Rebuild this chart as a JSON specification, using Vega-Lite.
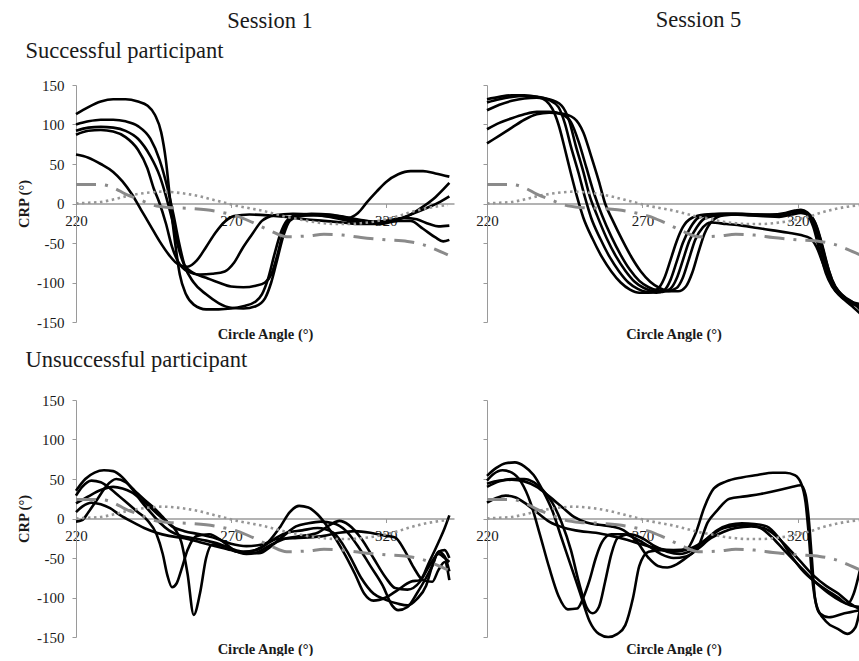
{
  "$schema": "https://vega.github.io/schema/vega-lite/v6.json",
  "padding": {"left": 16, "top": 9, "right": 0, "bottom": 0},
  "background": "white",
  "columns": 2,
  "spacing": {"row": 78, "column": 33},
  "bounds": "flush",
  "config": {
    "view": {"stroke": null},
    "font": "Liberation Serif",
    "axis": {"grid": false, "labelFont": "Liberation Serif", "labelFontSize": 15, "labelColor": "#1a1a1a", "titleFont": "Liberation Serif", "titleFontSize": 14.5, "titleFontWeight": "bold", "titleColor": "#1a1a1a", "domainColor": "#9a9a9a", "tickColor": "#9a9a9a"},
    "title": {"font": "Liberation Serif", "fontSize": 22.5, "fontWeight": "normal", "color": "#1a1a1a"}
  },
  "datasets": {
    "ref": [
      {"kind":"dotted","angle":220,"crp":0},{"kind":"dotted","angle":224,"crp":1},{"kind":"dotted","angle":228,"crp":2},{"kind":"dotted","angle":232,"crp":5},{"kind":"dotted","angle":236,"crp":9},{"kind":"dotted","angle":240,"crp":12},{"kind":"dotted","angle":244,"crp":14},{"kind":"dotted","angle":248,"crp":15},{"kind":"dotted","angle":252,"crp":14},{"kind":"dotted","angle":256,"crp":12},{"kind":"dotted","angle":260,"crp":9},{"kind":"dotted","angle":264,"crp":5},{"kind":"dotted","angle":268,"crp":1},{"kind":"dotted","angle":272,"crp":-3},{"kind":"dotted","angle":276,"crp":-6},{"kind":"dotted","angle":280,"crp":-9},{"kind":"dotted","angle":284,"crp":-13},{"kind":"dotted","angle":288,"crp":-17},{"kind":"dotted","angle":292,"crp":-20},{"kind":"dotted","angle":296,"crp":-23},{"kind":"dotted","angle":300,"crp":-25},{"kind":"dotted","angle":304,"crp":-26},{"kind":"dotted","angle":308,"crp":-26},{"kind":"dotted","angle":312,"crp":-25},{"kind":"dotted","angle":316,"crp":-23},{"kind":"dotted","angle":320,"crp":-20},{"kind":"dotted","angle":324,"crp":-16},{"kind":"dotted","angle":328,"crp":-11},{"kind":"dotted","angle":332,"crp":-7},{"kind":"dotted","angle":336,"crp":-4},{"kind":"dotted","angle":340,"crp":-2},
      {"kind":"dashdot","angle":220,"crp":24},{"kind":"dashdot","angle":228,"crp":24},{"kind":"dashdot","angle":232,"crp":20},{"kind":"dashdot","angle":236,"crp":12},{"kind":"dashdot","angle":241,"crp":4},{"kind":"dashdot","angle":245,"crp":-2},{"kind":"dashdot","angle":250,"crp":-5},{"kind":"dashdot","angle":256,"crp":-6},{"kind":"dashdot","angle":262,"crp":-8},{"kind":"dashdot","angle":268,"crp":-12},{"kind":"dashdot","angle":272,"crp":-16},{"kind":"dashdot","angle":277,"crp":-24},{"kind":"dashdot","angle":283,"crp":-35},{"kind":"dashdot","angle":288,"crp":-42},{"kind":"dashdot","angle":295,"crp":-41},{"kind":"dashdot","angle":300,"crp":-39},{"kind":"dashdot","angle":306,"crp":-40},{"kind":"dashdot","angle":312,"crp":-43},{"kind":"dashdot","angle":320,"crp":-46},{"kind":"dashdot","angle":327,"crp":-48},{"kind":"dashdot","angle":332,"crp":-52},{"kind":"dashdot","angle":336,"crp":-58},{"kind":"dashdot","angle":340,"crp":-65}
    ],
    "curves": [
      {"panel":"TL","trial":1,"angle":220,"crp":113},{"panel":"TL","trial":1,"angle":224,"crp":122},{"panel":"TL","trial":1,"angle":228,"crp":129},{"panel":"TL","trial":1,"angle":232,"crp":132},{"panel":"TL","trial":1,"angle":236,"crp":132},{"panel":"TL","trial":1,"angle":240,"crp":129},{"panel":"TL","trial":1,"angle":243,"crp":124},{"panel":"TL","trial":1,"angle":245.5,"crp":112},{"panel":"TL","trial":1,"angle":247.5,"crp":90},{"panel":"TL","trial":1,"angle":249,"crp":55},{"panel":"TL","trial":1,"angle":250.5,"crp":0},{"panel":"TL","trial":1,"angle":252,"crp":-50},{"panel":"TL","trial":1,"angle":253.5,"crp":-90},{"panel":"TL","trial":1,"angle":255.5,"crp":-115},{"panel":"TL","trial":1,"angle":258,"crp":-128},{"panel":"TL","trial":1,"angle":262,"crp":-134},{"panel":"TL","trial":1,"angle":266,"crp":-134},{"panel":"TL","trial":1,"angle":270,"crp":-133},{"panel":"TL","trial":1,"angle":274,"crp":-130},{"panel":"TL","trial":1,"angle":278,"crp":-124},{"panel":"TL","trial":1,"angle":280,"crp":-115},{"panel":"TL","trial":1,"angle":282,"crp":-95},{"panel":"TL","trial":1,"angle":284,"crp":-65},{"panel":"TL","trial":1,"angle":286,"crp":-38},{"panel":"TL","trial":1,"angle":288,"crp":-22},{"panel":"TL","trial":1,"angle":291,"crp":-15},{"panel":"TL","trial":1,"angle":296,"crp":-13},{"panel":"TL","trial":1,"angle":302,"crp":-14},{"panel":"TL","trial":1,"angle":308,"crp":-18},{"panel":"TL","trial":1,"angle":311,"crp":-12},{"panel":"TL","trial":1,"angle":314,"crp":2},{"panel":"TL","trial":1,"angle":317,"crp":15},{"panel":"TL","trial":1,"angle":320,"crp":27},{"panel":"TL","trial":1,"angle":324,"crp":37},{"panel":"TL","trial":1,"angle":328,"crp":41},{"panel":"TL","trial":1,"angle":332,"crp":41},{"panel":"TL","trial":1,"angle":336,"crp":38},{"panel":"TL","trial":1,"angle":340.5,"crp":34},
      {"panel":"TL","trial":2,"angle":220,"crp":100},{"panel":"TL","trial":2,"angle":224,"crp":104},{"panel":"TL","trial":2,"angle":228,"crp":106},{"panel":"TL","trial":2,"angle":232,"crp":106},{"panel":"TL","trial":2,"angle":236,"crp":104},{"panel":"TL","trial":2,"angle":240,"crp":98},{"panel":"TL","trial":2,"angle":244,"crp":82},{"panel":"TL","trial":2,"angle":247,"crp":55},{"panel":"TL","trial":2,"angle":249.5,"crp":20},{"panel":"TL","trial":2,"angle":251.5,"crp":-15},{"panel":"TL","trial":2,"angle":253,"crp":-45},{"panel":"TL","trial":2,"angle":255,"crp":-78},{"panel":"TL","trial":2,"angle":258,"crp":-100},{"panel":"TL","trial":2,"angle":262,"crp":-115},{"panel":"TL","trial":2,"angle":266,"crp":-126},{"panel":"TL","trial":2,"angle":270,"crp":-132},{"panel":"TL","trial":2,"angle":274,"crp":-133},{"panel":"TL","trial":2,"angle":278,"crp":-130},{"panel":"TL","trial":2,"angle":281,"crp":-120},{"panel":"TL","trial":2,"angle":283,"crp":-100},{"panel":"TL","trial":2,"angle":285,"crp":-70},{"panel":"TL","trial":2,"angle":287,"crp":-40},{"panel":"TL","trial":2,"angle":289,"crp":-22},{"panel":"TL","trial":2,"angle":292,"crp":-16},{"panel":"TL","trial":2,"angle":298,"crp":-14},{"panel":"TL","trial":2,"angle":305,"crp":-16},{"panel":"TL","trial":2,"angle":312,"crp":-21},{"panel":"TL","trial":2,"angle":318,"crp":-24},{"panel":"TL","trial":2,"angle":324,"crp":-20},{"panel":"TL","trial":2,"angle":328,"crp":-14},{"panel":"TL","trial":2,"angle":332,"crp":-4},{"panel":"TL","trial":2,"angle":336,"crp":8},{"panel":"TL","trial":2,"angle":340.5,"crp":26},
      {"panel":"TL","trial":3,"angle":220,"crp":92},{"panel":"TL","trial":3,"angle":224,"crp":96},{"panel":"TL","trial":3,"angle":228,"crp":97},{"panel":"TL","trial":3,"angle":232,"crp":96},{"panel":"TL","trial":3,"angle":236,"crp":92},{"panel":"TL","trial":3,"angle":240,"crp":82},{"panel":"TL","trial":3,"angle":244,"crp":60},{"panel":"TL","trial":3,"angle":247,"crp":35},{"panel":"TL","trial":3,"angle":249,"crp":10},{"panel":"TL","trial":3,"angle":251,"crp":-20},{"panel":"TL","trial":3,"angle":253,"crp":-55},{"panel":"TL","trial":3,"angle":255,"crp":-78},{"panel":"TL","trial":3,"angle":258,"crp":-88},{"panel":"TL","trial":3,"angle":262,"crp":-94},{"panel":"TL","trial":3,"angle":266,"crp":-100},{"panel":"TL","trial":3,"angle":270,"crp":-105},{"panel":"TL","trial":3,"angle":274,"crp":-106},{"panel":"TL","trial":3,"angle":278,"crp":-104},{"panel":"TL","trial":3,"angle":281,"crp":-100},{"panel":"TL","trial":3,"angle":283,"crp":-90},{"panel":"TL","trial":3,"angle":285,"crp":-65},{"panel":"TL","trial":3,"angle":287,"crp":-35},{"panel":"TL","trial":3,"angle":289,"crp":-20},{"panel":"TL","trial":3,"angle":292,"crp":-15},{"panel":"TL","trial":3,"angle":298,"crp":-15},{"panel":"TL","trial":3,"angle":305,"crp":-18},{"panel":"TL","trial":3,"angle":312,"crp":-22},{"panel":"TL","trial":3,"angle":318,"crp":-23},{"panel":"TL","trial":3,"angle":324,"crp":-20},{"panel":"TL","trial":3,"angle":328,"crp":-14},{"panel":"TL","trial":3,"angle":333,"crp":-6},{"panel":"TL","trial":3,"angle":337,"crp":1},{"panel":"TL","trial":3,"angle":340.5,"crp":9},
      {"panel":"TL","trial":4,"angle":220,"crp":87},{"panel":"TL","trial":4,"angle":224,"crp":92},{"panel":"TL","trial":4,"angle":228,"crp":93},{"panel":"TL","trial":4,"angle":232,"crp":91},{"panel":"TL","trial":4,"angle":236,"crp":84},{"panel":"TL","trial":4,"angle":240,"crp":68},{"panel":"TL","trial":4,"angle":243,"crp":45},{"panel":"TL","trial":4,"angle":245,"crp":20},{"panel":"TL","trial":4,"angle":247,"crp":0},{"panel":"TL","trial":4,"angle":249,"crp":-25},{"panel":"TL","trial":4,"angle":251,"crp":-55},{"panel":"TL","trial":4,"angle":253,"crp":-74},{"panel":"TL","trial":4,"angle":256,"crp":-86},{"panel":"TL","trial":4,"angle":260,"crp":-90},{"panel":"TL","trial":4,"angle":264,"crp":-89},{"panel":"TL","trial":4,"angle":268,"crp":-86},{"panel":"TL","trial":4,"angle":271,"crp":-75},{"panel":"TL","trial":4,"angle":274,"crp":-55},{"panel":"TL","trial":4,"angle":277,"crp":-38},{"panel":"TL","trial":4,"angle":280,"crp":-22},{"panel":"TL","trial":4,"angle":284,"crp":-15},{"panel":"TL","trial":4,"angle":290,"crp":-13},{"panel":"TL","trial":4,"angle":296,"crp":-14},{"panel":"TL","trial":4,"angle":302,"crp":-17},{"panel":"TL","trial":4,"angle":308,"crp":-22},{"panel":"TL","trial":4,"angle":314,"crp":-24},{"panel":"TL","trial":4,"angle":320,"crp":-22},{"panel":"TL","trial":4,"angle":326,"crp":-18},{"panel":"TL","trial":4,"angle":330,"crp":-20},{"panel":"TL","trial":4,"angle":334,"crp":-26},{"panel":"TL","trial":4,"angle":337,"crp":-29},{"panel":"TL","trial":4,"angle":340.5,"crp":-28},
      {"panel":"TL","trial":5,"angle":220,"crp":62},{"panel":"TL","trial":5,"angle":224,"crp":58},{"panel":"TL","trial":5,"angle":228,"crp":50},{"panel":"TL","trial":5,"angle":232,"crp":40},{"panel":"TL","trial":5,"angle":235,"crp":28},{"panel":"TL","trial":5,"angle":238,"crp":12},{"panel":"TL","trial":5,"angle":241,"crp":-8},{"panel":"TL","trial":5,"angle":244,"crp":-28},{"panel":"TL","trial":5,"angle":247,"crp":-48},{"panel":"TL","trial":5,"angle":250,"crp":-65},{"panel":"TL","trial":5,"angle":253,"crp":-77},{"panel":"TL","trial":5,"angle":256,"crp":-80},{"panel":"TL","trial":5,"angle":259,"crp":-72},{"panel":"TL","trial":5,"angle":262,"crp":-55},{"panel":"TL","trial":5,"angle":265,"crp":-37},{"panel":"TL","trial":5,"angle":268,"crp":-23},{"panel":"TL","trial":5,"angle":271,"crp":-16},{"panel":"TL","trial":5,"angle":276,"crp":-14},{"panel":"TL","trial":5,"angle":282,"crp":-15},{"panel":"TL","trial":5,"angle":288,"crp":-17},{"panel":"TL","trial":5,"angle":294,"crp":-20},{"panel":"TL","trial":5,"angle":300,"crp":-22},{"panel":"TL","trial":5,"angle":306,"crp":-24},{"panel":"TL","trial":5,"angle":312,"crp":-26},{"panel":"TL","trial":5,"angle":318,"crp":-26},{"panel":"TL","trial":5,"angle":324,"crp":-22},{"panel":"TL","trial":5,"angle":328,"crp":-22},{"panel":"TL","trial":5,"angle":332,"crp":-32},{"panel":"TL","trial":5,"angle":336,"crp":-43},{"panel":"TL","trial":5,"angle":338.5,"crp":-48},{"panel":"TL","trial":5,"angle":340.5,"crp":-46},

      {"panel":"TR","trial":1,"angle":220,"crp":132},{"panel":"TR","trial":1,"angle":224,"crp":135},{"panel":"TR","trial":1,"angle":228,"crp":137},{"panel":"TR","trial":1,"angle":232,"crp":137},{"panel":"TR","trial":1,"angle":236,"crp":135},{"panel":"TR","trial":1,"angle":239,"crp":130},{"panel":"TR","trial":1,"angle":241,"crp":120},{"panel":"TR","trial":1,"angle":243,"crp":100},{"panel":"TR","trial":1,"angle":245,"crp":70},{"panel":"TR","trial":1,"angle":247,"crp":38},{"panel":"TR","trial":1,"angle":249,"crp":8},{"panel":"TR","trial":1,"angle":251,"crp":-18},{"panel":"TR","trial":1,"angle":254,"crp":-45},{"panel":"TR","trial":1,"angle":257,"crp":-68},{"panel":"TR","trial":1,"angle":260,"crp":-86},{"panel":"TR","trial":1,"angle":263,"crp":-100},{"panel":"TR","trial":1,"angle":266,"crp":-109},{"panel":"TR","trial":1,"angle":269,"crp":-113},{"panel":"TR","trial":1,"angle":272,"crp":-113},{"panel":"TR","trial":1,"angle":275,"crp":-108},{"panel":"TR","trial":1,"angle":277,"crp":-95},{"panel":"TR","trial":1,"angle":279,"crp":-72},{"panel":"TR","trial":1,"angle":281,"crp":-48},{"panel":"TR","trial":1,"angle":283,"crp":-30},{"panel":"TR","trial":1,"angle":286,"crp":-18},{"panel":"TR","trial":1,"angle":290,"crp":-14},{"panel":"TR","trial":1,"angle":295,"crp":-13},{"panel":"TR","trial":1,"angle":300,"crp":-13},{"panel":"TR","trial":1,"angle":305,"crp":-14},{"panel":"TR","trial":1,"angle":310,"crp":-15},{"panel":"TR","trial":1,"angle":315,"crp":-14},{"panel":"TR","trial":1,"angle":318,"crp":-11},{"panel":"TR","trial":1,"angle":321,"crp":-10},{"panel":"TR","trial":1,"angle":323,"crp":-14},{"panel":"TR","trial":1,"angle":325,"crp":-30},{"panel":"TR","trial":1,"angle":327,"crp":-60},{"panel":"TR","trial":1,"angle":329,"crp":-88},{"panel":"TR","trial":1,"angle":331,"crp":-105},{"panel":"TR","trial":1,"angle":334,"crp":-118},{"panel":"TR","trial":1,"angle":337,"crp":-126},{"panel":"TR","trial":1,"angle":340,"crp":-131},
      {"panel":"TR","trial":2,"angle":220,"crp":128},{"panel":"TR","trial":2,"angle":224,"crp":132},{"panel":"TR","trial":2,"angle":228,"crp":135},{"panel":"TR","trial":2,"angle":232,"crp":136},{"panel":"TR","trial":2,"angle":236,"crp":135},{"panel":"TR","trial":2,"angle":240,"crp":131},{"panel":"TR","trial":2,"angle":243,"crp":122},{"panel":"TR","trial":2,"angle":245,"crp":102},{"panel":"TR","trial":2,"angle":247,"crp":72},{"panel":"TR","trial":2,"angle":249.5,"crp":38},{"panel":"TR","trial":2,"angle":251.5,"crp":8},{"panel":"TR","trial":2,"angle":253.5,"crp":-18},{"panel":"TR","trial":2,"angle":256.5,"crp":-45},{"panel":"TR","trial":2,"angle":259.5,"crp":-68},{"panel":"TR","trial":2,"angle":262.5,"crp":-86},{"panel":"TR","trial":2,"angle":265.5,"crp":-100},{"panel":"TR","trial":2,"angle":268.5,"crp":-108},{"panel":"TR","trial":2,"angle":271.5,"crp":-112},{"panel":"TR","trial":2,"angle":274.5,"crp":-113},{"panel":"TR","trial":2,"angle":277,"crp":-110},{"panel":"TR","trial":2,"angle":279,"crp":-97},{"panel":"TR","trial":2,"angle":281,"crp":-74},{"panel":"TR","trial":2,"angle":283,"crp":-50},{"panel":"TR","trial":2,"angle":285.5,"crp":-30},{"panel":"TR","trial":2,"angle":288,"crp":-18},{"panel":"TR","trial":2,"angle":292,"crp":-14},{"panel":"TR","trial":2,"angle":297,"crp":-13},{"panel":"TR","trial":2,"angle":302,"crp":-13},{"panel":"TR","trial":2,"angle":307,"crp":-14},{"panel":"TR","trial":2,"angle":312,"crp":-15},{"panel":"TR","trial":2,"angle":316,"crp":-13},{"panel":"TR","trial":2,"angle":319,"crp":-10},{"panel":"TR","trial":2,"angle":322,"crp":-11},{"panel":"TR","trial":2,"angle":324,"crp":-16},{"panel":"TR","trial":2,"angle":326,"crp":-35},{"panel":"TR","trial":2,"angle":328,"crp":-65},{"panel":"TR","trial":2,"angle":330,"crp":-92},{"panel":"TR","trial":2,"angle":332,"crp":-108},{"panel":"TR","trial":2,"angle":335,"crp":-120},{"panel":"TR","trial":2,"angle":338,"crp":-127},{"panel":"TR","trial":2,"angle":340,"crp":-129},
      {"panel":"TR","trial":3,"angle":220,"crp":118},{"panel":"TR","trial":3,"angle":224,"crp":125},{"panel":"TR","trial":3,"angle":228,"crp":130},{"panel":"TR","trial":3,"angle":232,"crp":133},{"panel":"TR","trial":3,"angle":236,"crp":134},{"panel":"TR","trial":3,"angle":240,"crp":132},{"panel":"TR","trial":3,"angle":244,"crp":124},{"panel":"TR","trial":3,"angle":246.5,"crp":104},{"panel":"TR","trial":3,"angle":248.5,"crp":74},{"panel":"TR","trial":3,"angle":251,"crp":40},{"panel":"TR","trial":3,"angle":253,"crp":10},{"panel":"TR","trial":3,"angle":255.5,"crp":-16},{"panel":"TR","trial":3,"angle":258.5,"crp":-44},{"panel":"TR","trial":3,"angle":261.5,"crp":-67},{"panel":"TR","trial":3,"angle":264.5,"crp":-85},{"panel":"TR","trial":3,"angle":267.5,"crp":-99},{"panel":"TR","trial":3,"angle":270.5,"crp":-107},{"panel":"TR","trial":3,"angle":273.5,"crp":-111},{"panel":"TR","trial":3,"angle":276.5,"crp":-112},{"panel":"TR","trial":3,"angle":279,"crp":-108},{"panel":"TR","trial":3,"angle":281,"crp":-95},{"panel":"TR","trial":3,"angle":283,"crp":-72},{"panel":"TR","trial":3,"angle":285,"crp":-48},{"panel":"TR","trial":3,"angle":287.5,"crp":-30},{"panel":"TR","trial":3,"angle":290,"crp":-19},{"panel":"TR","trial":3,"angle":294,"crp":-15},{"panel":"TR","trial":3,"angle":299,"crp":-14},{"panel":"TR","trial":3,"angle":304,"crp":-15},{"panel":"TR","trial":3,"angle":309,"crp":-16},{"panel":"TR","trial":3,"angle":314,"crp":-17},{"panel":"TR","trial":3,"angle":318,"crp":-14},{"panel":"TR","trial":3,"angle":321,"crp":-12},{"panel":"TR","trial":3,"angle":324,"crp":-16},{"panel":"TR","trial":3,"angle":326,"crp":-28},{"panel":"TR","trial":3,"angle":328,"crp":-55},{"panel":"TR","trial":3,"angle":330,"crp":-85},{"panel":"TR","trial":3,"angle":332,"crp":-105},{"panel":"TR","trial":3,"angle":335,"crp":-118},{"panel":"TR","trial":3,"angle":338,"crp":-126},{"panel":"TR","trial":3,"angle":340,"crp":-134},
      {"panel":"TR","trial":4,"angle":220,"crp":94},{"panel":"TR","trial":4,"angle":224,"crp":102},{"panel":"TR","trial":4,"angle":228,"crp":108},{"panel":"TR","trial":4,"angle":232,"crp":113},{"panel":"TR","trial":4,"angle":236,"crp":116},{"panel":"TR","trial":4,"angle":240,"crp":116},{"panel":"TR","trial":4,"angle":244,"crp":113},{"panel":"TR","trial":4,"angle":247,"crp":103},{"panel":"TR","trial":4,"angle":249.5,"crp":78},{"panel":"TR","trial":4,"angle":252,"crp":45},{"panel":"TR","trial":4,"angle":254.5,"crp":12},{"panel":"TR","trial":4,"angle":257,"crp":-15},{"panel":"TR","trial":4,"angle":260,"crp":-42},{"panel":"TR","trial":4,"angle":263,"crp":-65},{"panel":"TR","trial":4,"angle":266,"crp":-84},{"panel":"TR","trial":4,"angle":269,"crp":-98},{"panel":"TR","trial":4,"angle":272,"crp":-106},{"panel":"TR","trial":4,"angle":275,"crp":-110},{"panel":"TR","trial":4,"angle":278,"crp":-111},{"panel":"TR","trial":4,"angle":281,"crp":-107},{"panel":"TR","trial":4,"angle":283,"crp":-94},{"panel":"TR","trial":4,"angle":285,"crp":-70},{"panel":"TR","trial":4,"angle":287,"crp":-46},{"panel":"TR","trial":4,"angle":289.5,"crp":-30},{"panel":"TR","trial":4,"angle":292,"crp":-24},{"panel":"TR","trial":4,"angle":297,"crp":-26},{"panel":"TR","trial":4,"angle":302,"crp":-28},{"panel":"TR","trial":4,"angle":307,"crp":-31},{"panel":"TR","trial":4,"angle":312,"crp":-34},{"panel":"TR","trial":4,"angle":317,"crp":-37},{"panel":"TR","trial":4,"angle":321,"crp":-40},{"panel":"TR","trial":4,"angle":324,"crp":-44},{"panel":"TR","trial":4,"angle":326,"crp":-55},{"panel":"TR","trial":4,"angle":328,"crp":-75},{"panel":"TR","trial":4,"angle":330,"crp":-95},{"panel":"TR","trial":4,"angle":332,"crp":-110},{"panel":"TR","trial":4,"angle":335,"crp":-122},{"panel":"TR","trial":4,"angle":338,"crp":-132},{"panel":"TR","trial":4,"angle":340,"crp":-139},
      {"panel":"TR","trial":5,"angle":220,"crp":76},{"panel":"TR","trial":5,"angle":224,"crp":86},{"panel":"TR","trial":5,"angle":228,"crp":96},{"panel":"TR","trial":5,"angle":232,"crp":106},{"panel":"TR","trial":5,"angle":236,"crp":113},{"panel":"TR","trial":5,"angle":240,"crp":115},{"panel":"TR","trial":5,"angle":244,"crp":114},{"panel":"TR","trial":5,"angle":248,"crp":108},{"panel":"TR","trial":5,"angle":251,"crp":90},{"panel":"TR","trial":5,"angle":253.5,"crp":60},{"panel":"TR","trial":5,"angle":256,"crp":28},{"panel":"TR","trial":5,"angle":258,"crp":0},{"panel":"TR","trial":5,"angle":260.5,"crp":-22},{"panel":"TR","trial":5,"angle":263.5,"crp":-46},{"panel":"TR","trial":5,"angle":266.5,"crp":-68},{"panel":"TR","trial":5,"angle":269.5,"crp":-86},{"panel":"TR","trial":5,"angle":272.5,"crp":-99},{"panel":"TR","trial":5,"angle":275.5,"crp":-107},{"panel":"TR","trial":5,"angle":278.5,"crp":-111},{"panel":"TR","trial":5,"angle":281.5,"crp":-111},{"panel":"TR","trial":5,"angle":284,"crp":-105},{"panel":"TR","trial":5,"angle":286,"crp":-88},{"panel":"TR","trial":5,"angle":288,"crp":-62},{"panel":"TR","trial":5,"angle":290,"crp":-38},{"panel":"TR","trial":5,"angle":292.5,"crp":-22},{"panel":"TR","trial":5,"angle":296,"crp":-15},{"panel":"TR","trial":5,"angle":301,"crp":-14},{"panel":"TR","trial":5,"angle":306,"crp":-14},{"panel":"TR","trial":5,"angle":311,"crp":-14},{"panel":"TR","trial":5,"angle":316,"crp":-12},{"panel":"TR","trial":5,"angle":319,"crp":-9},{"panel":"TR","trial":5,"angle":321,"crp":-8},{"panel":"TR","trial":5,"angle":323,"crp":-11},{"panel":"TR","trial":5,"angle":325,"crp":-20},{"panel":"TR","trial":5,"angle":327,"crp":-42},{"panel":"TR","trial":5,"angle":329,"crp":-72},{"panel":"TR","trial":5,"angle":331,"crp":-97},{"panel":"TR","trial":5,"angle":334,"crp":-115},{"panel":"TR","trial":5,"angle":337,"crp":-124},{"panel":"TR","trial":5,"angle":340,"crp":-127},

      {"panel":"BL","trial":1,"angle":220,"crp":35},{"panel":"BL","trial":1,"angle":223,"crp":50},{"panel":"BL","trial":1,"angle":226,"crp":58},{"panel":"BL","trial":1,"angle":229,"crp":61},{"panel":"BL","trial":1,"angle":232,"crp":60},{"panel":"BL","trial":1,"angle":235,"crp":52},{"panel":"BL","trial":1,"angle":238,"crp":38},{"panel":"BL","trial":1,"angle":241,"crp":22},{"panel":"BL","trial":1,"angle":244,"crp":8},{"panel":"BL","trial":1,"angle":247,"crp":-5},{"panel":"BL","trial":1,"angle":250,"crp":-15},{"panel":"BL","trial":1,"angle":254,"crp":-22},{"panel":"BL","trial":1,"angle":258,"crp":-25},{"panel":"BL","trial":1,"angle":262,"crp":-28},{"panel":"BL","trial":1,"angle":266,"crp":-32},{"panel":"BL","trial":1,"angle":270,"crp":-38},{"panel":"BL","trial":1,"angle":274,"crp":-42},{"panel":"BL","trial":1,"angle":278,"crp":-40},{"panel":"BL","trial":1,"angle":282,"crp":-30},{"panel":"BL","trial":1,"angle":286,"crp":-10},{"panel":"BL","trial":1,"angle":289,"crp":8},{"panel":"BL","trial":1,"angle":292,"crp":16},{"panel":"BL","trial":1,"angle":295,"crp":14},{"panel":"BL","trial":1,"angle":298,"crp":5},{"panel":"BL","trial":1,"angle":302,"crp":-15},{"panel":"BL","trial":1,"angle":306,"crp":-40},{"panel":"BL","trial":1,"angle":310,"crp":-70},{"panel":"BL","trial":1,"angle":313,"crp":-95},{"panel":"BL","trial":1,"angle":316,"crp":-104},{"panel":"BL","trial":1,"angle":320,"crp":-100},{"panel":"BL","trial":1,"angle":324,"crp":-90},{"panel":"BL","trial":1,"angle":328,"crp":-80},{"panel":"BL","trial":1,"angle":331,"crp":-78},{"panel":"BL","trial":1,"angle":334,"crp":-55},{"panel":"BL","trial":1,"angle":337,"crp":-30},{"panel":"BL","trial":1,"angle":339,"crp":-12},{"panel":"BL","trial":1,"angle":340.5,"crp":4},
      {"panel":"BL","trial":2,"angle":220,"crp":29},{"panel":"BL","trial":2,"angle":222,"crp":40},{"panel":"BL","trial":2,"angle":225,"crp":48},{"panel":"BL","trial":2,"angle":228,"crp":46},{"panel":"BL","trial":2,"angle":231,"crp":38},{"panel":"BL","trial":2,"angle":234,"crp":28},{"panel":"BL","trial":2,"angle":237,"crp":18},{"panel":"BL","trial":2,"angle":240,"crp":8},{"panel":"BL","trial":2,"angle":243,"crp":-2},{"panel":"BL","trial":2,"angle":246,"crp":-20},{"panel":"BL","trial":2,"angle":248,"crp":-45},{"panel":"BL","trial":2,"angle":249.5,"crp":-72},{"panel":"BL","trial":2,"angle":251,"crp":-87},{"panel":"BL","trial":2,"angle":252.5,"crp":-82},{"panel":"BL","trial":2,"angle":254,"crp":-65},{"panel":"BL","trial":2,"angle":256,"crp":-40},{"panel":"BL","trial":2,"angle":259,"crp":-22},{"panel":"BL","trial":2,"angle":263,"crp":-20},{"panel":"BL","trial":2,"angle":267,"crp":-28},{"panel":"BL","trial":2,"angle":271,"crp":-40},{"panel":"BL","trial":2,"angle":275,"crp":-45},{"panel":"BL","trial":2,"angle":279,"crp":-42},{"panel":"BL","trial":2,"angle":283,"crp":-33},{"panel":"BL","trial":2,"angle":288,"crp":-25},{"panel":"BL","trial":2,"angle":293,"crp":-22},{"panel":"BL","trial":2,"angle":298,"crp":-18},{"panel":"BL","trial":2,"angle":302,"crp":-8},{"panel":"BL","trial":2,"angle":305,"crp":-3},{"panel":"BL","trial":2,"angle":308,"crp":-8},{"panel":"BL","trial":2,"angle":312,"crp":-25},{"panel":"BL","trial":2,"angle":316,"crp":-50},{"panel":"BL","trial":2,"angle":320,"crp":-75},{"panel":"BL","trial":2,"angle":323,"crp":-88},{"panel":"BL","trial":2,"angle":327,"crp":-90},{"panel":"BL","trial":2,"angle":331,"crp":-80},{"panel":"BL","trial":2,"angle":334,"crp":-60},{"panel":"BL","trial":2,"angle":337,"crp":-45},{"panel":"BL","trial":2,"angle":339,"crp":-50},{"panel":"BL","trial":2,"angle":340.5,"crp":-55},
      {"panel":"BL","trial":3,"angle":220,"crp":19},{"panel":"BL","trial":3,"angle":224,"crp":28},{"panel":"BL","trial":3,"angle":228,"crp":36},{"panel":"BL","trial":3,"angle":232,"crp":40},{"panel":"BL","trial":3,"angle":235,"crp":38},{"panel":"BL","trial":3,"angle":238,"crp":33},{"panel":"BL","trial":3,"angle":241,"crp":24},{"panel":"BL","trial":3,"angle":244,"crp":14},{"panel":"BL","trial":3,"angle":247,"crp":3},{"panel":"BL","trial":3,"angle":250,"crp":-6},{"panel":"BL","trial":3,"angle":252,"crp":-14},{"panel":"BL","trial":3,"angle":254,"crp":-30},{"panel":"BL","trial":3,"angle":256,"crp":-70},{"panel":"BL","trial":3,"angle":258,"crp":-122},{"panel":"BL","trial":3,"angle":260,"crp":-95},{"panel":"BL","trial":3,"angle":262,"crp":-50},{"panel":"BL","trial":3,"angle":264,"crp":-33},{"panel":"BL","trial":3,"angle":268,"crp":-35},{"panel":"BL","trial":3,"angle":272,"crp":-42},{"panel":"BL","trial":3,"angle":276,"crp":-42},{"panel":"BL","trial":3,"angle":280,"crp":-36},{"panel":"BL","trial":3,"angle":284,"crp":-26},{"panel":"BL","trial":3,"angle":288,"crp":-18},{"panel":"BL","trial":3,"angle":293,"crp":-15},{"panel":"BL","trial":3,"angle":298,"crp":-12},{"panel":"BL","trial":3,"angle":303,"crp":-18},{"panel":"BL","trial":3,"angle":308,"crp":-45},{"panel":"BL","trial":3,"angle":312,"crp":-75},{"panel":"BL","trial":3,"angle":316,"crp":-95},{"panel":"BL","trial":3,"angle":320,"crp":-103},{"panel":"BL","trial":3,"angle":324,"crp":-108},{"panel":"BL","trial":3,"angle":327,"crp":-110},{"panel":"BL","trial":3,"angle":330,"crp":-102},{"panel":"BL","trial":3,"angle":333,"crp":-85},{"panel":"BL","trial":3,"angle":335,"crp":-60},{"panel":"BL","trial":3,"angle":337,"crp":-42},{"panel":"BL","trial":3,"angle":339,"crp":-48},{"panel":"BL","trial":3,"angle":340.5,"crp":-67},
      {"panel":"BL","trial":4,"angle":220,"crp":8},{"panel":"BL","trial":4,"angle":222,"crp":15},{"panel":"BL","trial":4,"angle":225,"crp":20},{"panel":"BL","trial":4,"angle":228,"crp":18},{"panel":"BL","trial":4,"angle":231,"crp":13},{"panel":"BL","trial":4,"angle":234,"crp":5},{"panel":"BL","trial":4,"angle":238,"crp":-4},{"panel":"BL","trial":4,"angle":242,"crp":-12},{"panel":"BL","trial":4,"angle":246,"crp":-18},{"panel":"BL","trial":4,"angle":250,"crp":-22},{"panel":"BL","trial":4,"angle":255,"crp":-25},{"panel":"BL","trial":4,"angle":260,"crp":-30},{"panel":"BL","trial":4,"angle":265,"crp":-35},{"panel":"BL","trial":4,"angle":270,"crp":-40},{"panel":"BL","trial":4,"angle":275,"crp":-44},{"panel":"BL","trial":4,"angle":279,"crp":-44},{"panel":"BL","trial":4,"angle":283,"crp":-35},{"panel":"BL","trial":4,"angle":287,"crp":-22},{"panel":"BL","trial":4,"angle":291,"crp":-10},{"panel":"BL","trial":4,"angle":295,"crp":-6},{"panel":"BL","trial":4,"angle":299,"crp":-4},{"panel":"BL","trial":4,"angle":303,"crp":-6},{"panel":"BL","trial":4,"angle":307,"crp":-15},{"panel":"BL","trial":4,"angle":311,"crp":-35},{"panel":"BL","trial":4,"angle":315,"crp":-60},{"panel":"BL","trial":4,"angle":319,"crp":-85},{"panel":"BL","trial":4,"angle":322,"crp":-110},{"panel":"BL","trial":4,"angle":324,"crp":-116},{"panel":"BL","trial":4,"angle":327,"crp":-112},{"panel":"BL","trial":4,"angle":330,"crp":-95},{"panel":"BL","trial":4,"angle":333,"crp":-75},{"panel":"BL","trial":4,"angle":335,"crp":-60},{"panel":"BL","trial":4,"angle":337,"crp":-42},{"panel":"BL","trial":4,"angle":339,"crp":-40},{"panel":"BL","trial":4,"angle":340.5,"crp":-50},
      {"panel":"BL","trial":5,"angle":220,"crp":-4},{"panel":"BL","trial":5,"angle":222,"crp":-2},{"panel":"BL","trial":5,"angle":224,"crp":8},{"panel":"BL","trial":5,"angle":227,"crp":25},{"panel":"BL","trial":5,"angle":230,"crp":42},{"panel":"BL","trial":5,"angle":233,"crp":50},{"panel":"BL","trial":5,"angle":236,"crp":46},{"panel":"BL","trial":5,"angle":239,"crp":35},{"panel":"BL","trial":5,"angle":242,"crp":24},{"panel":"BL","trial":5,"angle":245,"crp":14},{"panel":"BL","trial":5,"angle":248,"crp":2},{"panel":"BL","trial":5,"angle":251,"crp":-10},{"panel":"BL","trial":5,"angle":255,"crp":-16},{"panel":"BL","trial":5,"angle":260,"crp":-20},{"panel":"BL","trial":5,"angle":265,"crp":-25},{"panel":"BL","trial":5,"angle":270,"crp":-32},{"panel":"BL","trial":5,"angle":275,"crp":-35},{"panel":"BL","trial":5,"angle":280,"crp":-33},{"panel":"BL","trial":5,"angle":285,"crp":-26},{"panel":"BL","trial":5,"angle":290,"crp":-25},{"panel":"BL","trial":5,"angle":295,"crp":-24},{"panel":"BL","trial":5,"angle":300,"crp":-22},{"panel":"BL","trial":5,"angle":305,"crp":-18},{"panel":"BL","trial":5,"angle":310,"crp":-16},{"panel":"BL","trial":5,"angle":315,"crp":-18},{"panel":"BL","trial":5,"angle":320,"crp":-22},{"panel":"BL","trial":5,"angle":323,"crp":-24},{"panel":"BL","trial":5,"angle":326,"crp":-40},{"panel":"BL","trial":5,"angle":329,"crp":-62},{"panel":"BL","trial":5,"angle":332,"crp":-78},{"panel":"BL","trial":5,"angle":335,"crp":-80},{"panel":"BL","trial":5,"angle":337,"crp":-65},{"panel":"BL","trial":5,"angle":339,"crp":-55},{"panel":"BL","trial":5,"angle":340.5,"crp":-78},

      {"panel":"BR","trial":1,"angle":220,"crp":54},{"panel":"BR","trial":1,"angle":223,"crp":64},{"panel":"BR","trial":1,"angle":226,"crp":70},{"panel":"BR","trial":1,"angle":229,"crp":71},{"panel":"BR","trial":1,"angle":232,"crp":66},{"panel":"BR","trial":1,"angle":235,"crp":55},{"panel":"BR","trial":1,"angle":238,"crp":35},{"panel":"BR","trial":1,"angle":241,"crp":10},{"panel":"BR","trial":1,"angle":244,"crp":-25},{"panel":"BR","trial":1,"angle":247,"crp":-60},{"panel":"BR","trial":1,"angle":250,"crp":-95},{"panel":"BR","trial":1,"angle":253,"crp":-130},{"panel":"BR","trial":1,"angle":256,"crp":-146},{"panel":"BR","trial":1,"angle":259,"crp":-150},{"panel":"BR","trial":1,"angle":262,"crp":-146},{"panel":"BR","trial":1,"angle":264.5,"crp":-135},{"panel":"BR","trial":1,"angle":267,"crp":-100},{"panel":"BR","trial":1,"angle":269,"crp":-60},{"panel":"BR","trial":1,"angle":272,"crp":-42},{"panel":"BR","trial":1,"angle":276,"crp":-40},{"panel":"BR","trial":1,"angle":280,"crp":-42},{"panel":"BR","trial":1,"angle":284,"crp":-40},{"panel":"BR","trial":1,"angle":287,"crp":-20},{"panel":"BR","trial":1,"angle":290,"crp":15},{"panel":"BR","trial":1,"angle":293,"crp":38},{"panel":"BR","trial":1,"angle":297,"crp":47},{"panel":"BR","trial":1,"angle":302,"crp":52},{"panel":"BR","trial":1,"angle":307,"crp":55},{"panel":"BR","trial":1,"angle":312,"crp":58},{"panel":"BR","trial":1,"angle":316,"crp":58},{"panel":"BR","trial":1,"angle":319,"crp":55},{"panel":"BR","trial":1,"angle":321,"crp":45},{"panel":"BR","trial":1,"angle":322.5,"crp":20},{"panel":"BR","trial":1,"angle":323.5,"crp":-20},{"panel":"BR","trial":1,"angle":324.5,"crp":-70},{"panel":"BR","trial":1,"angle":326,"crp":-110},{"panel":"BR","trial":1,"angle":329,"crp":-130},{"panel":"BR","trial":1,"angle":333,"crp":-140},{"panel":"BR","trial":1,"angle":336,"crp":-146},{"panel":"BR","trial":1,"angle":338.5,"crp":-138},{"panel":"BR","trial":1,"angle":340,"crp":-115},
      {"panel":"BR","trial":2,"angle":220,"crp":48},{"panel":"BR","trial":2,"angle":222,"crp":56},{"panel":"BR","trial":2,"angle":225,"crp":61},{"panel":"BR","trial":2,"angle":228,"crp":58},{"panel":"BR","trial":2,"angle":231,"crp":46},{"panel":"BR","trial":2,"angle":234,"crp":20},{"panel":"BR","trial":2,"angle":237,"crp":-20},{"panel":"BR","trial":2,"angle":240,"crp":-62},{"panel":"BR","trial":2,"angle":243,"crp":-98},{"panel":"BR","trial":2,"angle":246,"crp":-115},{"panel":"BR","trial":2,"angle":249,"crp":-114},{"panel":"BR","trial":2,"angle":251,"crp":-100},{"panel":"BR","trial":2,"angle":253,"crp":-78},{"panel":"BR","trial":2,"angle":255,"crp":-50},{"panel":"BR","trial":2,"angle":257,"crp":-30},{"panel":"BR","trial":2,"angle":260,"crp":-20},{"panel":"BR","trial":2,"angle":264,"crp":-20},{"panel":"BR","trial":2,"angle":268,"crp":-26},{"panel":"BR","trial":2,"angle":272,"crp":-35},{"panel":"BR","trial":2,"angle":276,"crp":-45},{"panel":"BR","trial":2,"angle":280,"crp":-50},{"panel":"BR","trial":2,"angle":284,"crp":-48},{"panel":"BR","trial":2,"angle":288,"crp":-35},{"panel":"BR","trial":2,"angle":291,"crp":-5},{"panel":"BR","trial":2,"angle":294,"crp":10},{"panel":"BR","trial":2,"angle":298,"crp":25},{"panel":"BR","trial":2,"angle":303,"crp":28},{"panel":"BR","trial":2,"angle":308,"crp":31},{"panel":"BR","trial":2,"angle":314,"crp":36},{"panel":"BR","trial":2,"angle":318,"crp":40},{"panel":"BR","trial":2,"angle":321,"crp":42},{"panel":"BR","trial":2,"angle":322.5,"crp":30},{"panel":"BR","trial":2,"angle":323.5,"crp":0},{"panel":"BR","trial":2,"angle":324.5,"crp":-50},{"panel":"BR","trial":2,"angle":325.5,"crp":-100},{"panel":"BR","trial":2,"angle":327,"crp":-120},{"panel":"BR","trial":2,"angle":330,"crp":-125},{"panel":"BR","trial":2,"angle":335,"crp":-120},{"panel":"BR","trial":2,"angle":340,"crp":-116},
      {"panel":"BR","trial":3,"angle":220,"crp":40},{"panel":"BR","trial":3,"angle":224,"crp":47},{"panel":"BR","trial":3,"angle":228,"crp":50},{"panel":"BR","trial":3,"angle":232,"crp":50},{"panel":"BR","trial":3,"angle":235,"crp":46},{"panel":"BR","trial":3,"angle":238,"crp":36},{"panel":"BR","trial":3,"angle":241,"crp":20},{"panel":"BR","trial":3,"angle":244,"crp":-5},{"panel":"BR","trial":3,"angle":247,"crp":-40},{"panel":"BR","trial":3,"angle":249.5,"crp":-80},{"panel":"BR","trial":3,"angle":252,"crp":-112},{"panel":"BR","trial":3,"angle":254,"crp":-120},{"panel":"BR","trial":3,"angle":256,"crp":-112},{"panel":"BR","trial":3,"angle":258,"crp":-80},{"panel":"BR","trial":3,"angle":260,"crp":-45},{"panel":"BR","trial":3,"angle":262,"crp":-25},{"panel":"BR","trial":3,"angle":266,"crp":-20},{"panel":"BR","trial":3,"angle":270,"crp":-25},{"panel":"BR","trial":3,"angle":274,"crp":-35},{"panel":"BR","trial":3,"angle":278,"crp":-42},{"panel":"BR","trial":3,"angle":282,"crp":-45},{"panel":"BR","trial":3,"angle":286,"crp":-40},{"panel":"BR","trial":3,"angle":290,"crp":-28},{"panel":"BR","trial":3,"angle":294,"crp":-15},{"panel":"BR","trial":3,"angle":298,"crp":-8},{"panel":"BR","trial":3,"angle":302,"crp":-6},{"panel":"BR","trial":3,"angle":306,"crp":-7},{"panel":"BR","trial":3,"angle":310,"crp":-10},{"panel":"BR","trial":3,"angle":314,"crp":-25},{"panel":"BR","trial":3,"angle":318,"crp":-48},{"panel":"BR","trial":3,"angle":322,"crp":-68},{"panel":"BR","trial":3,"angle":326,"crp":-82},{"panel":"BR","trial":3,"angle":330,"crp":-95},{"panel":"BR","trial":3,"angle":334,"crp":-105},{"panel":"BR","trial":3,"angle":337,"crp":-110},{"panel":"BR","trial":3,"angle":340,"crp":-112},
      {"panel":"BR","trial":4,"angle":220,"crp":20},{"panel":"BR","trial":4,"angle":223,"crp":26},{"panel":"BR","trial":4,"angle":226,"crp":29},{"panel":"BR","trial":4,"angle":229,"crp":27},{"panel":"BR","trial":4,"angle":232,"crp":20},{"panel":"BR","trial":4,"angle":236,"crp":8},{"panel":"BR","trial":4,"angle":240,"crp":-4},{"panel":"BR","trial":4,"angle":245,"crp":-12},{"panel":"BR","trial":4,"angle":250,"crp":-16},{"panel":"BR","trial":4,"angle":255,"crp":-18},{"panel":"BR","trial":4,"angle":260,"crp":-22},{"panel":"BR","trial":4,"angle":265,"crp":-27},{"panel":"BR","trial":4,"angle":270,"crp":-33},{"panel":"BR","trial":4,"angle":275,"crp":-38},{"panel":"BR","trial":4,"angle":280,"crp":-40},{"panel":"BR","trial":4,"angle":285,"crp":-38},{"panel":"BR","trial":4,"angle":290,"crp":-28},{"panel":"BR","trial":4,"angle":295,"crp":-14},{"panel":"BR","trial":4,"angle":300,"crp":-9},{"panel":"BR","trial":4,"angle":304,"crp":-8},{"panel":"BR","trial":4,"angle":308,"crp":-12},{"panel":"BR","trial":4,"angle":312,"crp":-25},{"panel":"BR","trial":4,"angle":316,"crp":-42},{"panel":"BR","trial":4,"angle":320,"crp":-58},{"panel":"BR","trial":4,"angle":325,"crp":-78},{"panel":"BR","trial":4,"angle":329,"crp":-90},{"panel":"BR","trial":4,"angle":333,"crp":-100},{"panel":"BR","trial":4,"angle":336,"crp":-108},{"panel":"BR","trial":4,"angle":338,"crp":-95},{"panel":"BR","trial":4,"angle":340,"crp":-65},
      {"panel":"BR","trial":5,"angle":220,"crp":44},{"panel":"BR","trial":5,"angle":224,"crp":48},{"panel":"BR","trial":5,"angle":228,"crp":49},{"panel":"BR","trial":5,"angle":232,"crp":47},{"panel":"BR","trial":5,"angle":236,"crp":40},{"panel":"BR","trial":5,"angle":240,"crp":28},{"panel":"BR","trial":5,"angle":244,"crp":15},{"panel":"BR","trial":5,"angle":248,"crp":2},{"panel":"BR","trial":5,"angle":252,"crp":-5},{"panel":"BR","trial":5,"angle":256,"crp":-8},{"panel":"BR","trial":5,"angle":260,"crp":-10},{"panel":"BR","trial":5,"angle":264,"crp":-15},{"panel":"BR","trial":5,"angle":268,"crp":-28},{"panel":"BR","trial":5,"angle":272,"crp":-50},{"panel":"BR","trial":5,"angle":275,"crp":-60},{"panel":"BR","trial":5,"angle":278,"crp":-62},{"panel":"BR","trial":5,"angle":281,"crp":-58},{"panel":"BR","trial":5,"angle":284,"crp":-50},{"panel":"BR","trial":5,"angle":288,"crp":-38},{"panel":"BR","trial":5,"angle":292,"crp":-25},{"panel":"BR","trial":5,"angle":296,"crp":-17},{"panel":"BR","trial":5,"angle":300,"crp":-12},{"panel":"BR","trial":5,"angle":305,"crp":-10},{"panel":"BR","trial":5,"angle":309,"crp":-12},{"panel":"BR","trial":5,"angle":313,"crp":-22},{"panel":"BR","trial":5,"angle":317,"crp":-38},{"panel":"BR","trial":5,"angle":321,"crp":-55},{"panel":"BR","trial":5,"angle":325,"crp":-72},{"panel":"BR","trial":5,"angle":329,"crp":-85},{"panel":"BR","trial":5,"angle":333,"crp":-95},{"panel":"BR","trial":5,"angle":337,"crp":-108},{"panel":"BR","trial":5,"angle":340,"crp":-115}
    ]
  },
  "concat": [
    {
      "width": 378, "height": 237,
      "title": {"text": "Session 1", "frame": "group", "anchor": "middle", "dx": 5, "offset": -11, "baseline": "alphabetic"},
      "resolve": {"axis": {"x": "independent", "y": "independent"}},
      "layer": [
        {"data": {"name": "curves"}, "transform": [{"filter": "datum.panel === 'TL'"}],
         "mark": {"type": "line", "interpolate": "monotone", "color": "black", "strokeWidth": 2.6},
         "encoding": {
           "x": {"field": "angle", "type": "quantitative", "scale": {"domain": [220, 342], "nice": false, "zero": false},
                 "axis": {"orient": "bottom", "offset": -118.5, "values": [220, 270, 320], "tickSize": 4, "labelPadding": 6, "labelFlush": false, "labelOverlap": false, "domainWidth": 1.5, "title": "Circle Angle (°)", "titleY": 135, "titleBaseline": "alphabetic"}},
           "y": {"field": "crp", "type": "quantitative", "scale": {"domain": [-150, 150], "nice": false},
                 "axis": {"values": [-150, -100, -50, 0, 50, 100, 150], "labelExpr": "datum.value + ''", "tickSize": 4, "labelPadding": 8, "title": "CRP (°)", "titlePadding": 5}},
           "detail": {"field": "trial"}}},
        {"data": {"name": "ref"}, "transform": [{"filter": "datum.kind === 'dotted'"}],
         "mark": {"type": "line", "interpolate": "monotone", "color": "#969696", "strokeWidth": 2.6, "strokeDash": [2.5, 3.5], "strokeCap": "butt"},
         "encoding": {
           "x": {"field": "angle", "type": "quantitative", "scale": {"domain": [220, 342], "nice": false, "zero": false},
                 "axis": {"orient": "top", "domain": false, "ticks": false, "labels": false, "title": "Successful participant", "titleX": -51, "titleY": -28, "titleAlign": "left", "titleBaseline": "alphabetic", "titleFontSize": 22.5, "titleFontWeight": "normal"}},
           "y": {"field": "crp", "type": "quantitative", "scale": {"domain": [-150, 150], "nice": false}, "axis": null}}},
        {"data": {"name": "ref"}, "transform": [{"filter": "datum.kind === 'dashdot'"}],
         "mark": {"type": "line", "interpolate": "monotone", "color": "#8a8a8a", "strokeWidth": 3, "strokeDash": [20, 9, 3, 9], "strokeCap": "butt"},
         "encoding": {
           "x": {"field": "angle", "type": "quantitative", "scale": {"domain": [220, 342], "nice": false, "zero": false}, "axis": null},
           "y": {"field": "crp", "type": "quantitative", "scale": {"domain": [-150, 150], "nice": false}, "axis": null}}}
      ]
    },
    {
      "width": 373, "height": 237,
      "title": {"text": "Session 5", "frame": "group", "anchor": "middle", "dx": 25, "offset": 35, "baseline": "alphabetic"},
      "resolve": {"axis": {"x": "independent", "y": "independent"}},
      "layer": [
        {"data": {"name": "curves"}, "transform": [{"filter": "datum.panel === 'TR'"}],
         "mark": {"type": "line", "interpolate": "monotone", "color": "black", "strokeWidth": 2.6},
         "encoding": {
           "x": {"field": "angle", "type": "quantitative", "scale": {"domain": [220, 340], "nice": false, "zero": false},
                 "axis": {"orient": "bottom", "offset": -118.5, "values": [220, 270, 320], "tickSize": 4, "labelPadding": 6, "labelFlush": false, "labelOverlap": false, "domainWidth": 1.5, "title": "Circle Angle (°)", "titleY": 135, "titleBaseline": "alphabetic"}},
           "y": {"field": "crp", "type": "quantitative", "scale": {"domain": [-150, 150], "nice": false},
                 "axis": {"values": [-150, -100, -50, 0, 50, 100, 150], "tickSize": 4, "labels": false, "title": null}},
           "detail": {"field": "trial"}}},
        {"data": {"name": "ref"}, "transform": [{"filter": "datum.kind === 'dotted'"}],
         "mark": {"type": "line", "interpolate": "monotone", "color": "#969696", "strokeWidth": 2.6, "strokeDash": [2.5, 3.5], "strokeCap": "butt"},
         "encoding": {
           "x": {"field": "angle", "type": "quantitative", "scale": {"domain": [220, 340], "nice": false, "zero": false}, "axis": null},
           "y": {"field": "crp", "type": "quantitative", "scale": {"domain": [-150, 150], "nice": false}, "axis": null}}},
        {"data": {"name": "ref"}, "transform": [{"filter": "datum.kind === 'dashdot'"}],
         "mark": {"type": "line", "interpolate": "monotone", "color": "#8a8a8a", "strokeWidth": 3, "strokeDash": [20, 9, 3, 9], "strokeCap": "butt"},
         "encoding": {
           "x": {"field": "angle", "type": "quantitative", "scale": {"domain": [220, 340], "nice": false, "zero": false}, "axis": null},
           "y": {"field": "crp", "type": "quantitative", "scale": {"domain": [-150, 150], "nice": false}, "axis": null}}}
      ]
    },
    {
      "width": 378, "height": 237,
      "resolve": {"axis": {"x": "independent", "y": "independent"}},
      "layer": [
        {"data": {"name": "curves"}, "transform": [{"filter": "datum.panel === 'BL'"}],
         "mark": {"type": "line", "interpolate": "monotone", "color": "black", "strokeWidth": 2.6},
         "encoding": {
           "x": {"field": "angle", "type": "quantitative", "scale": {"domain": [220, 342], "nice": false, "zero": false},
                 "axis": {"orient": "bottom", "offset": -118.5, "values": [220, 270, 320], "tickSize": 4, "labelPadding": 6, "labelFlush": false, "labelOverlap": false, "domainWidth": 1.5, "title": "Circle Angle (°)", "titleY": 135, "titleBaseline": "alphabetic"}},
           "y": {"field": "crp", "type": "quantitative", "scale": {"domain": [-150, 150], "nice": false},
                 "axis": {"values": [-150, -100, -50, 0, 50, 100, 150], "labelExpr": "datum.value + ''", "tickSize": 4, "labelPadding": 8, "title": "CRP (°)", "titlePadding": 5}},
           "detail": {"field": "trial"}}},
        {"data": {"name": "ref"}, "transform": [{"filter": "datum.kind === 'dotted'"}],
         "mark": {"type": "line", "interpolate": "monotone", "color": "#969696", "strokeWidth": 2.6, "strokeDash": [2.5, 3.5], "strokeCap": "butt"},
         "encoding": {
           "x": {"field": "angle", "type": "quantitative", "scale": {"domain": [220, 342], "nice": false, "zero": false},
                 "axis": {"orient": "top", "domain": false, "ticks": false, "labels": false, "title": "Unsuccessful participant", "titleX": -51, "titleY": -34, "titleAlign": "left", "titleBaseline": "alphabetic", "titleFontSize": 22.5, "titleFontWeight": "normal"}},
           "y": {"field": "crp", "type": "quantitative", "scale": {"domain": [-150, 150], "nice": false}, "axis": null}}},
        {"data": {"name": "ref"}, "transform": [{"filter": "datum.kind === 'dashdot'"}],
         "mark": {"type": "line", "interpolate": "monotone", "color": "#8a8a8a", "strokeWidth": 3, "strokeDash": [20, 9, 3, 9], "strokeCap": "butt"},
         "encoding": {
           "x": {"field": "angle", "type": "quantitative", "scale": {"domain": [220, 342], "nice": false, "zero": false}, "axis": null},
           "y": {"field": "crp", "type": "quantitative", "scale": {"domain": [-150, 150], "nice": false}, "axis": null}}}
      ]
    },
    {
      "width": 373, "height": 237,
      "resolve": {"axis": {"x": "independent", "y": "independent"}},
      "layer": [
        {"data": {"name": "curves"}, "transform": [{"filter": "datum.panel === 'BR'"}],
         "mark": {"type": "line", "interpolate": "monotone", "color": "black", "strokeWidth": 2.6},
         "encoding": {
           "x": {"field": "angle", "type": "quantitative", "scale": {"domain": [220, 340], "nice": false, "zero": false},
                 "axis": {"orient": "bottom", "offset": -118.5, "values": [220, 270, 320], "tickSize": 4, "labelPadding": 6, "labelFlush": false, "labelOverlap": false, "domainWidth": 1.5, "title": "Circle Angle (°)", "titleY": 135, "titleBaseline": "alphabetic"}},
           "y": {"field": "crp", "type": "quantitative", "scale": {"domain": [-150, 150], "nice": false},
                 "axis": {"values": [-150, -100, -50, 0, 50, 100, 150], "tickSize": 4, "labels": false, "title": null}},
           "detail": {"field": "trial"}}},
        {"data": {"name": "ref"}, "transform": [{"filter": "datum.kind === 'dotted'"}],
         "mark": {"type": "line", "interpolate": "monotone", "color": "#969696", "strokeWidth": 2.6, "strokeDash": [2.5, 3.5], "strokeCap": "butt"},
         "encoding": {
           "x": {"field": "angle", "type": "quantitative", "scale": {"domain": [220, 340], "nice": false, "zero": false}, "axis": null},
           "y": {"field": "crp", "type": "quantitative", "scale": {"domain": [-150, 150], "nice": false}, "axis": null}}},
        {"data": {"name": "ref"}, "transform": [{"filter": "datum.kind === 'dashdot'"}],
         "mark": {"type": "line", "interpolate": "monotone", "color": "#8a8a8a", "strokeWidth": 3, "strokeDash": [20, 9, 3, 9], "strokeCap": "butt"},
         "encoding": {
           "x": {"field": "angle", "type": "quantitative", "scale": {"domain": [220, 340], "nice": false, "zero": false}, "axis": null},
           "y": {"field": "crp", "type": "quantitative", "scale": {"domain": [-150, 150], "nice": false}, "axis": null}}}
      ]
    }
  ]
}
